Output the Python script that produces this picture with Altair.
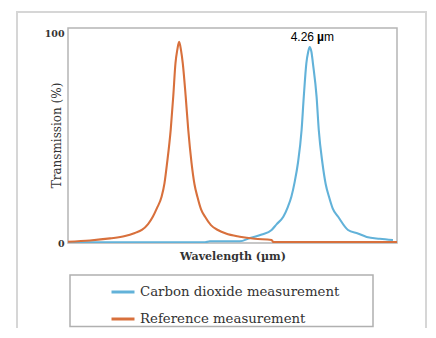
import altair as alt
import pandas as pd

# ---- data ----
series_names = ["Carbon dioxide measurement", "Reference measurement"]

ref_wavelength = [3.600, 3.660, 3.715, 3.756, 3.783, 3.802, 3.819, 3.832, 3.843, 3.856,
                  3.864, 3.871, 3.881, 3.888, 3.894, 3.899, 3.904, 3.909, 3.914, 3.922,
                  3.929, 3.938, 3.946, 3.954, 3.964, 3.975, 3.991, 4.010, 4.032, 4.070,
                  4.111, 4.157, 4.162, 4.231, 4.340, 4.500]
ref_transmission = [0.6, 1.2, 2.2, 3.3, 4.8, 6.2, 9.0, 12.5, 16.5, 22.0,
                    28.5, 38.0, 54.0, 70.0, 85.6, 92.0, 95.8, 92.0, 85.6, 69.7,
                    53.8, 38.1, 28.0, 22.0, 16.0, 12.5, 8.5, 6.2, 4.5, 3.0,
                    2.0, 1.4, 0.4, 0.4, 0.4, 0.4]

co2_wavelength = [3.600, 3.824, 3.975, 3.988, 4.070, 4.098, 4.130, 4.157, 4.171, 4.189,
                  4.201, 4.211, 4.220, 4.229, 4.239, 4.245, 4.252, 4.257, 4.261, 4.266,
                  4.270, 4.280, 4.286, 4.296, 4.305, 4.314, 4.324, 4.339, 4.366, 4.393,
                  4.417, 4.453, 4.489]
co2_transmission = [0.3, 0.3, 0.3, 0.8, 0.8, 2.4, 4.0, 6.2, 9.0, 12.5,
                    17.0, 22.0, 29.0, 38.1, 53.8, 69.7, 85.6, 91.0, 93.3, 91.0,
                    85.6, 69.7, 53.8, 38.1, 28.0, 22.0, 16.5, 12.5, 6.2, 4.5,
                    2.9, 2.0, 1.4]

ann_label = ["4.26", "\u00b5", "m"]
ann_wavelength = [4.273, 4.273, 4.300]
ann_value = [96.2, 96.2, 96.2]

# ---- build tables ----
df = pd.concat([
    pd.DataFrame({"wavelength": co2_wavelength, "transmission": co2_transmission,
                  "series": series_names[0]}),
    pd.DataFrame({"wavelength": ref_wavelength, "transmission": ref_transmission,
                  "series": series_names[1]}),
])
ann = pd.DataFrame({"label": ann_label, "wavelength": ann_wavelength, "value": ann_value})

serif = "DejaVu Serif"
text_col = "#333333"

xscale = alt.Scale(domain=[3.6, 4.5], nice=False, zero=False)
yscale = alt.Scale(domain=[0, 102.4], nice=False)

one = pd.DataFrame({"k": [0]})
frame = alt.Chart(one).mark_rect(fill=None, stroke="#d6d6d6", strokeWidth=2).encode(
    x=alt.value(-51), x2=alt.value(358), y=alt.value(-16), y2=alt.value(330)
)
legend_box = alt.Chart(one).mark_rect(fill="white", stroke="#b0b0b0", strokeWidth=1.5).encode(
    x=alt.value(2), x2=alt.value(305), y=alt.value(247), y2=alt.value(298.5)
)

lines = alt.Chart(df).mark_line(strokeWidth=2.1, interpolate="monotone", clip=True).encode(
    x=alt.X("wavelength:Q", scale=xscale,
            axis=alt.Axis(title="Wavelength (\u00b5m)", labels=False, ticks=False,
                          domain=False, grid=False, titlePadding=7,
                          titleFont=serif, titleFontSize=11, titleFontWeight="bold",
                          titleColor=text_col)),
    y=alt.Y("transmission:Q", scale=yscale,
            axis=alt.Axis(title="Transmission (%)", values=[0, 100], ticks=False,
                          domain=False, grid=False, labelPadding=4,
                          labelFont=serif, labelFontSize=9.5, labelFontWeight="bold",
                          labelColor=text_col,
                          titleFont=serif, titleFontSize=12, titleFontWeight="normal",
                          titleColor=text_col, titleX=-12, titleY=107,
                          titleAngle=270, titleAlign="center", titleBaseline="middle")),
    color=alt.Color("series:N",
                    scale=alt.Scale(domain=series_names, range=["#62b2d9", "#d8703c"]),
                    legend=alt.Legend(
                        title=None, orient="none", legendX=42, legendY=251,
                        direction="vertical", symbolType="stroke", symbolSize=529,
                        symbolStrokeWidth=3, labelOffset=4,
                        labelFont=serif, labelFontSize=13.3, labelColor=text_col,
                        labelLimit=400, rowPadding=7, padding=0)),
)

ann_base = alt.Chart(ann)
enc = dict(x=alt.X("wavelength:Q", scale=xscale), y=alt.Y("value:Q", scale=yscale),
           text="label:N")
ann_num = ann_base.transform_filter(alt.datum.label == ann_label[0]).mark_text(
    align="right", baseline="alphabetic", font="Liberation Sans", fontSize=12, color="black"
).encode(**enc)
ann_mu = ann_base.transform_filter(alt.datum.label == ann_label[1]).mark_text(
    align="left", baseline="alphabetic", font="Liberation Sans", fontSize=12,
    fontWeight="bold", color="black", dx=3
).encode(**enc)
ann_m = ann_base.transform_filter(alt.datum.label == ann_label[2]).mark_text(
    align="left", baseline="alphabetic", font="Liberation Sans", fontSize=12, color="black"
).encode(**enc)

chart = alt.layer(frame, legend_box, lines, ann_num, ann_mu, ann_m).properties(
    width=329, height=215,
    autosize=alt.AutoSizeParams(type="none"),
    padding={"left": 60, "top": 20, "right": 31, "bottom": 85},
    background="white",
).configure_view(stroke="#b5b5b5", strokeWidth=1.5)

chart.save("out.html", embed_options={"renderer": "svg", "actions": False})
